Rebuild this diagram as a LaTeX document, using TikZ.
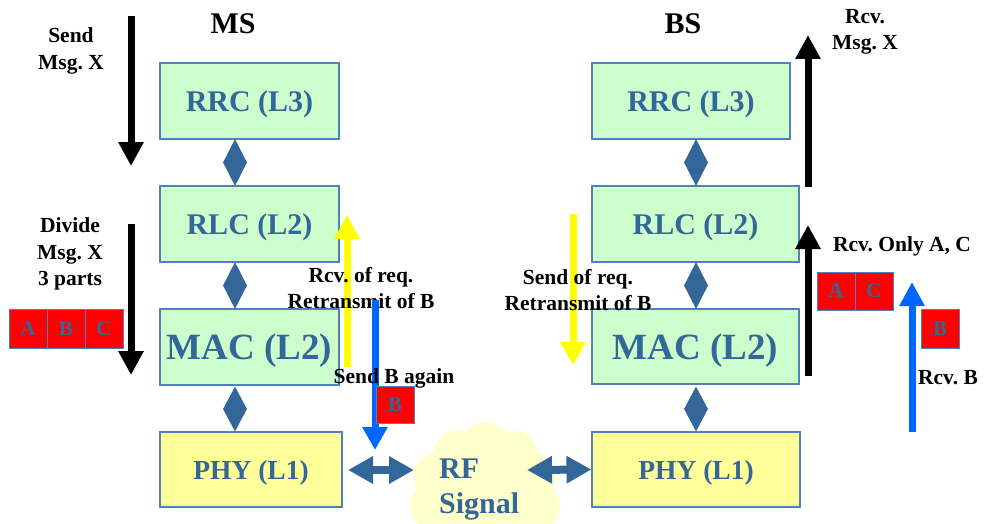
\documentclass[tikz,border=0pt]{standalone}
\usepackage{fontspec}
\setmainfont{Liberation Serif}
\frenchspacing
\usetikzlibrary{arrows.meta,shapes.geometric,shapes.symbols,calc}
\definecolor{boxgreen}{HTML}{CCFFCC}
\definecolor{boxyellow}{HTML}{FFFF99}
\definecolor{edgeblue}{HTML}{4F81BD}
\definecolor{txtblue}{HTML}{336699}
\definecolor{cloudy}{HTML}{FFFFCC}
\definecolor{arrblue}{HTML}{0066FF}
\definecolor{arryellow}{HTML}{FFFF00}
\tikzset{
  layer/.style={draw=edgeblue, line width=1.1pt, fill=boxgreen, inner sep=0pt, text depth=0pt,
    text=txtblue, font=\bfseries\fontsize{30}{32}\selectfont},
  phy/.style={layer, fill=boxyellow, font=\bfseries\fontsize{27.5}{30}\selectfont},
  dia/.style={diamond, fill=txtblue, draw=none, inner sep=0pt, minimum width=24pt, minimum height=47pt},
  seg/.style={draw=edgeblue, line width=1pt, fill=red, inner sep=0pt, minimum width=38pt,
    minimum height=39pt, text depth=0pt, text=txtblue, font=\bfseries\fontsize{21}{22}\selectfont},
  lbl/.style={align=center, text=black, font=\bfseries\fontsize{21.5}{26.5}\selectfont, inner sep=0pt},
  ttl/.style={text=black, font=\bfseries\fontsize{30}{32}\selectfont, inner sep=0pt},
  blk/.style={line width=7pt, -{Triangle[length=24pt,width=24pt]}},
  dbl/.style={line width=8pt, draw=txtblue, {Triangle[length=25pt,width=26pt]}-{Triangle[length=25pt,width=26pt]}},
}
\begin{document}
\begin{tikzpicture}[x=1pt,y=-1pt]
\useasboundingbox (0,0) rectangle (984,524);
\clip (0,0) rectangle (984,524);

% cloud
\node[cloud, cloud puffs=11, cloud puff arc=110, fill=cloudy, draw=none, aspect=1.1,
  minimum width=152pt, minimum height=152pt, inner sep=0pt] (cloud) at (485,498) {};
\node[anchor=west, text=txtblue, align=left, font=\bfseries\fontsize{30}{35}\selectfont, inner sep=0pt] (rf) at (439,489) {RF\\Signal};

% MS stack
\node[ttl] (ms) at (233,24) {MS};
\node[layer, minimum width=179pt, minimum height=76pt] (msrrc) at (249.5,101) {RRC (L3)};
\node[layer, minimum width=179pt, minimum height=76pt] (msrlc) at (249.5,224) {RLC (L2)};
\node[layer, minimum width=179pt, minimum height=76pt, font=\bfseries\fontsize{37}{40}\selectfont] (msmac) at (249.5,347) {MAC (L2)};
\node[phy, minimum width=182pt, minimum height=75pt] (msphy) at (251,469.5) {PHY (L1)};
\node[dia] (msd1) at (235,162.5) {};
\node[dia] (msd2) at (235,285.5) {};
\node[dia, minimum height=45pt] (msd3) at (235,409) {};

% BS stack
\node[ttl] (bs) at (683,24) {BS};
\node[layer, minimum width=198pt, minimum height=76pt] (bsrrc) at (691,101) {RRC (L3)};
\node[layer, minimum width=207pt, minimum height=76pt] (bsrlc) at (695.5,224) {RLC (L2)};
\node[layer, minimum width=207pt, minimum height=75pt, font=\bfseries\fontsize{37}{40}\selectfont] (bsmac) at (695.5,346.5) {MAC (L2)};
\node[phy, minimum width=208pt, minimum height=75pt] (bsphy) at (696,469.5) {PHY (L1)};
\node[dia] (bsd1) at (696,162.5) {};
\node[dia] (bsd2) at (696,285.5) {};
\node[dia, minimum height=45pt] (bsd3) at (696,409) {};

% RF double arrows
\coordinate (l1) at (348,470);
\coordinate (l2) at (414,470);
\coordinate (r1) at (527,470);
\draw[dbl] (l1) -- (l2);
\draw[dbl] (r1) -- (bsphy.west);

% left side black arrows and labels
\coordinate (a1s) at (131,16);  \coordinate (a1e) at (131,166);
\coordinate (a2s) at (131,224); \coordinate (a2e) at (131,375);
\draw[blk] (a1s) -- (a1e);
\draw[blk] (a2s) -- (a2e);
\node[lbl] (sendx) at (71,51) {Send\\Msg. X};
\node[lbl] (divide) at (70,254) {Divide\\Msg. X\\3 parts};
\node[seg] (sa) at (28,328.5) {A};
\node[seg] (sb) at (66,328.5) {B};
\node[seg] (sc) at (104,328.5) {C};

% MS yellow and blue arrows
\coordinate (y1s) at (347,367); \coordinate (y1e) at (347,215);
\draw[line width=7pt, draw=arryellow, -{Triangle[length=24pt,width=24pt]}] (y1s) -- (y1e);
\node[lbl] (rcvreq) at (361,288) {Rcv. of req.\\Retransmit of B};
\coordinate (b1s) at (375,300); \coordinate (b1e) at (375,450);
\draw[line width=7pt, draw=arrblue, -{Triangle[length=23pt,width=24pt]}] (b1s) -- (b1e);
\node[lbl] (sendb) at (394,378) {Send B again};
\node[seg, minimum height=37pt] (lb) at (395,404.5) {B};

% BS yellow arrow
\coordinate (y2s) at (573,214); \coordinate (y2e) at (573,365);
\draw[line width=7pt, draw=arryellow, -{Triangle[length=23pt,width=24pt]}] (y2s) -- (y2e);
\node[lbl] (sendreq) at (578,290) {Send of req.\\Retransmit of B};

% BS right black arrows
\coordinate (r1s) at (808,187); \coordinate (r1e) at (808,35);
\coordinate (r2s) at (808,376); \coordinate (r2e) at (808,225);
\draw[blk] (r1s) -- (r1e);
\draw[blk] (r2s) -- (r2e);
\node[lbl] (rcvx) at (865,32) {Rcv.\\Msg. X};
\node[lbl] (rcvac) at (902,246) {Rcv. Only A, C};
\node[seg, minimum height=38pt] (ra) at (836,291) {A};
\node[seg, minimum height=38pt] (rc) at (874,291) {C};

% BS blue arrow
\coordinate (b2s) at (912,432); \coordinate (b2e) at (912,282);
\draw[line width=7pt, draw=arrblue, -{Triangle[length=24pt,width=24pt]}] (b2s) -- (b2e);
\node[seg] (rb) at (940,328.5) {B};
\node[lbl] (rcvb) at (948,378) {Rcv. B};
\end{tikzpicture}
\end{document}
